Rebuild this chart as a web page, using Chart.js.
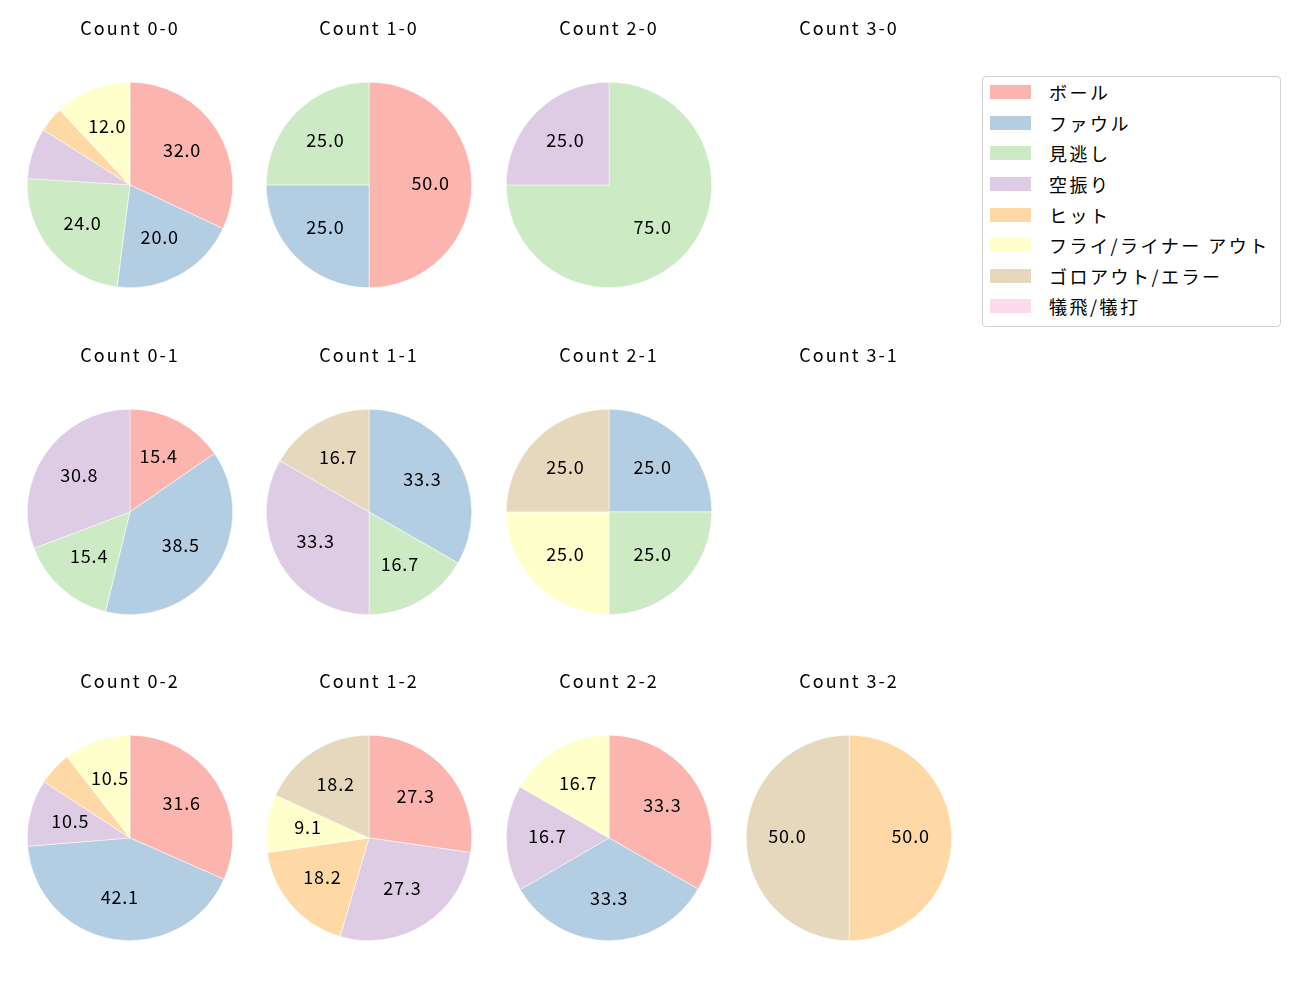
<!DOCTYPE html>
<html>
<head>
<meta charset="utf-8">
<script src="https://cdn.jsdelivr.net/npm/chart.js@4"></script>
<style>
  body { margin: 0; background: #fff; width: 1300px; height: 1000px; position: relative; font-family: "Noto Sans CJK JP", sans-serif; }
  .cell { position: absolute; width: 206px; height: 276px; }
  #legend { position: absolute; left: 982px; top: 76px; width: 299px; height: 251px; border: 1px solid #d0d0d0; border-radius: 4px; box-sizing: border-box; padding-top: 0px; }
  .item { height: 30.6px; display: flex; align-items: center; font-size: 18px; letter-spacing: 2.5px; color: #000; }
  .swatch { width: 41px; height: 14px; margin-left: 7px; margin-right: 18px; }
</style>
</head>
<body>
<div id="legend"></div>
<script>
var categories = ["ボール", "ファウル", "見逃し", "空振り", "ヒット", "フライ/ライナー アウト", "ゴロアウト/エラー", "犠飛/犠打"];
var colors = ["#fbb4ae", "#b3cde3", "#ccebc5", "#decbe4", "#fed9a6", "#ffffcc", "#e5d8bd", "#fddaec"];

var counts = ["0-0", "1-0", "2-0", "3-0", "0-1", "1-1", "2-1", "3-1", "0-2", "1-2", "2-2", "3-2"];

// percentages per count, in category order
var values = {
  "0-0": [32.0, 20.0, 24.0, 8.0, 4.0, 12.0, 0, 0],
  "1-0": [50.0, 25.0, 25.0, 0, 0, 0, 0, 0],
  "2-0": [0, 0, 75.0, 25.0, 0, 0, 0, 0],
  "3-0": [],
  "0-1": [15.4, 38.5, 15.4, 30.8, 0, 0, 0, 0],
  "1-1": [0, 33.3, 16.7, 33.3, 0, 0, 16.7, 0],
  "2-1": [0, 25.0, 25.0, 0, 0, 25.0, 25.0, 0],
  "3-1": [],
  "0-2": [31.6, 42.1, 0, 10.5, 5.3, 10.5, 0, 0],
  "1-2": [27.3, 0, 0, 27.3, 18.2, 9.1, 18.2, 0],
  "2-2": [33.3, 33.3, 0, 16.7, 0, 16.7, 0, 0],
  "3-2": [0, 0, 0, 0, 50.0, 0, 50.0, 0]
};

var colX = [130, 369, 609, 849];
var rowY = [185, 512, 838];

// wider text spacing, so the title matches the reference font
var spacing = {
  id: "spacing",
  beforeDraw: function(chart) {
    chart.ctx.letterSpacing = "2px";
  }
};

// draws the percentage text at 0.6 of the radius, like autopct
var pctLabels = {
  id: "pctLabels",
  afterDatasetsDraw: function(chart) {
    var ctx = chart.ctx;
    var meta = chart.getDatasetMeta(0);
    var data = chart.data.datasets[0].data;
    ctx.save();
    ctx.font = "18px 'Noto Sans CJK JP'";
    ctx.letterSpacing = "0.8px";
    ctx.fillStyle = "#000";
    ctx.textAlign = "center";
    ctx.textBaseline = "middle";
    meta.data.forEach(function(arc, i) {
      var v = data[i];
      if (!v || v < 9) return;
      var a = (arc.startAngle + arc.endAngle) / 2;
      var r = arc.outerRadius * 0.6;
      ctx.fillText(v.toFixed(1), arc.x + Math.cos(a) * r, arc.y + Math.sin(a) * r - 1.5);
    });
    ctx.restore();
  }
};

counts.forEach(function(c, idx) {
  var col = idx % 4, row = Math.floor(idx / 4);
  var div = document.createElement("div");
  div.className = "cell";
  div.style.left = (colX[col] - 103) + "px";
  div.style.top = (rowY[row] - 173) + "px";
  var canvas = document.createElement("canvas");
  canvas.width = 206;
  canvas.height = 276;
  div.appendChild(canvas);
  document.body.appendChild(div);

  new Chart(canvas.getContext("2d"), {
    type: "pie",
    data: {
      labels: categories,
      datasets: [{
        data: values[c],
        backgroundColor: colors,
        borderColor: "#ffffff",
        borderWidth: 0.5
      }]
    },
    options: {
      responsive: false,
      animation: false,
      events: [],
      layout: { padding: 0 },
      plugins: {
        legend: { display: false },
        tooltip: { enabled: false },
        title: {
          display: true,
          text: "Count " + c,
          color: "#000",
          font: { family: "'Noto Sans CJK JP'", size: 18, weight: "normal", lineHeight: 1.2 },
          padding: { top: 5.2, bottom: 43 }
        }
      }
    },
    plugins: [spacing, pctLabels]
  });
});

var legend = document.getElementById("legend");
categories.forEach(function(name, i) {
  var item = document.createElement("div");
  item.className = "item";
  var sw = document.createElement("span");
  sw.className = "swatch";
  sw.style.background = colors[i];
  var t = document.createElement("span");
  t.textContent = name;
  item.appendChild(sw);
  item.appendChild(t);
  legend.appendChild(item);
});
</script>
</body>
</html>
